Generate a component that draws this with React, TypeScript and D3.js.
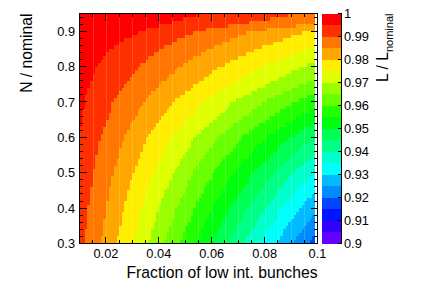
import React, { useEffect, useRef } from "react";
import * as d3 from "d3";

// histogram binning (x: fraction of low int. bunches, y: N / nominal)
const X_EDGES = d3.range(0, 90).map((i) => +(0.01 + i * 0.001).toFixed(3));
const Y_EDGES = d3.range(0, 66).map((j) => +(0.3 + j * 0.01).toFixed(2));

const ROWS_N = [0.3, 0.4, 0.5, 0.6, 0.7, 0.75, 0.8, 0.85, 0.9, 0.95];

// contour levels of L / L_nominal, and the x position where each level is crossed on every row
const CONTOUR_LEVELS = [0.995, 0.99, 0.985, 0.98, 0.975, 0.97, 0.965, 0.96, 0.955, 0.95, 0.945, 0.94, 0.935, 0.93, 0.925, 0.92];
const CONTOUR_X = [
  [0.006, 0.0067, 0.0076, 0.01, 0.0118, 0.0138, 0.0167, 0.0217, 0.033, 0.056],
  [0.012, 0.0133, 0.0152, 0.0179, 0.0227, 0.027, 0.0322, 0.0405, 0.054, 0.0934],
  [0.0181, 0.02, 0.0227, 0.0268, 0.0341, 0.0405, 0.0477, 0.059, 0.075, 0.13],
  [0.0241, 0.0267, 0.0303, 0.0357, 0.0455, 0.0541, 0.0632, 0.0775, 0.096, 0.167],
  [0.0301, 0.0333, 0.0379, 0.0446, 0.0568, 0.0676, 0.0787, 0.096, 0.117, 0.204],
  [0.0361, 0.04, 0.0455, 0.0536, 0.0682, 0.0811, 0.0942, 0.1145, 0.138, 0.241],
  [0.0422, 0.0467, 0.053, 0.0625, 0.0795, 0.0946, 0.11, 0.133, 0.159, 0.278],
  [0.0482, 0.0533, 0.0606, 0.0714, 0.0909, 0.108, 0.125, 0.152, 0.18, 0.315],
  [0.0542, 0.06, 0.0682, 0.0804, 0.102, 0.122, 0.141, 0.17, 0.201, 0.352],
  [0.0602, 0.0667, 0.0758, 0.0893, 0.114, 0.135, 0.156, 0.189, 0.222, 0.389],
  [0.0663, 0.0733, 0.0833, 0.0982, 0.125, 0.149, 0.172, 0.207, 0.243, 0.426],
  [0.0723, 0.08, 0.0909, 0.107, 0.136, 0.162, 0.187, 0.226, 0.264, 0.463],
  [0.0783, 0.0867, 0.0985, 0.116, 0.148, 0.176, 0.203, 0.244, 0.285, 0.5],
  [0.0843, 0.0933, 0.106, 0.125, 0.159, 0.189, 0.218, 0.263, 0.306, 0.537],
  [0.0904, 0.1, 0.114, 0.134, 0.17, 0.203, 0.234, 0.281, 0.327, 0.574],
  [0.0964, 0.107, 0.121, 0.143, 0.182, 0.216, 0.249, 0.3, 0.348, 0.611],
];

// tick labels
const X_TICKS = [0.02, 0.04, 0.06, 0.08, 0.1];
const Y_TICKS = [0.3, 0.4, 0.5, 0.6, 0.7, 0.8, 0.9];
const Z_TICKS = [0.9, 0.91, 0.92, 0.93, 0.94, 0.95, 0.96, 0.97, 0.98, 0.99, 1];

// ROOT "pretty" palette, 20 colour levels from 0.9 to 1
const PALETTE = [
  "#6300ff", "#3300ff", "#0014ff", "#0044ff", "#008bff", "#00bbff", "#00fffc", "#00ffcc", "#00ff85", "#00ff55",
  "#00ff0e", "#22ff00", "#69ff00", "#99ff00", "#e0ff00", "#ffee00", "#ffa700", "#ff7700", "#ff3000", "#ff0000",
];

const FONT = "'Liberation Sans', Arial, Helvetica, sans-serif";

function App() {
  const ref = useRef<SVGSVGElement>(null);

  useEffect(() => {
    const svg = d3.select(ref.current);
    svg.selectAll("*").remove();

    const left = 79.5, right = 317.5, top = 13.5, bottom = 243.5;
    const x = d3.scaleLinear().domain([0.01, 0.1]).range([left, right]);
    const y = d3.scaleLinear().domain([0.3, 0.95]).range([bottom, top]);
    const z = d3.scaleLinear().domain([0.9, 1]).range([bottom, top]);
    const palX0 = 321.5, palX1 = 341.5;

    // contour boundary of a level at a given N (straight segments between read rows)
    const edgeAt = (k: number, n: number) => {
      const xs = CONTOUR_X[k];
      let i = d3.bisectRight(ROWS_N, n) - 1;
      i = Math.max(0, Math.min(ROWS_N.length - 2, i));
      const t = (n - ROWS_N[i]) / (ROWS_N[i + 1] - ROWS_N[i]);
      return xs[i] + t * (xs[i + 1] - xs[i]);
    };

    const cells: { x0: number; x1: number; y0: number; y1: number; c: number }[] = [];
    for (let j = 0; j < Y_EDGES.length - 1; j++) {
      const yc = (Y_EDGES[j] + Y_EDGES[j + 1]) / 2;
      const edges = CONTOUR_LEVELS.map((_, k) => edgeAt(k, yc));
      for (let i = 0; i < X_EDGES.length - 1; i++) {
        const xc = (X_EDGES[i] + X_EDGES[i + 1]) / 2;
        const crossed = edges.filter((e) => e <= xc).length;
        cells.push({ x0: X_EDGES[i], x1: X_EDGES[i + 1], y0: Y_EDGES[j], y1: Y_EDGES[j + 1], c: PALETTE.length - 1 - crossed });
      }
    }

    svg.append("rect").attr("width", 440).attr("height", 285).attr("fill", "#fff");

    const heat = svg.append("g").attr("shape-rendering", "crispEdges");
    heat.selectAll("rect")
      .data(cells)
      .join("rect")
      .attr("x", (d) => x(d.x0))
      .attr("y", (d) => y(d.y1))
      .attr("width", (d) => x(d.x1) - x(d.x0))
      .attr("height", (d) => y(d.y0) - y(d.y1))
      .attr("fill", (d) => PALETTE[Math.max(0, d.c)]);

    // faint seams between blocks of bins, as in the png output
    const seams = X_EDGES.filter((_, i) => i > 0 && i % 5 === 0 && i < X_EDGES.length - 1);
    heat.selectAll("line")
      .data(seams)
      .join("line")
      .attr("x1", (d) => Math.round(x(d)) + 0.5)
      .attr("x2", (d) => Math.round(x(d)) + 0.5)
      .attr("y1", top)
      .attr("y2", bottom)
      .attr("stroke", "#fff")
      .attr("stroke-opacity", 0.15);

    const ax = svg.append("g").attr("stroke", "#000").attr("stroke-width", 1).attr("shape-rendering", "crispEdges");

    // frame
    ax.append("rect").attr("x", left).attr("y", top).attr("width", right - left).attr("height", bottom - top).attr("fill", "none");

    // x ticks (bottom and top, pointing in)
    const xMinor = d3.range(0.01, 0.1001, 0.005);
    const isMajorX = (v: number) => X_TICKS.some((t) => Math.abs(t - v) < 1e-6);
    xMinor.forEach((v) => {
      const len = isMajorX(v) ? 7 : 3.5;
      ax.append("line").attr("x1", x(v)).attr("x2", x(v)).attr("y1", bottom).attr("y2", bottom - len);
      ax.append("line").attr("x1", x(v)).attr("x2", x(v)).attr("y1", top).attr("y2", top + len);
    });

    // y ticks (left and right, pointing in)
    const yMinor = d3.range(0.3, 0.951, 0.02);
    const isMajorY = (v: number) => Y_TICKS.some((t) => Math.abs(t - v) < 1e-6);
    yMinor.forEach((v) => {
      const len = isMajorY(v) ? 7 : 3.5;
      ax.append("line").attr("x1", left).attr("x2", left + len).attr("y1", y(v)).attr("y2", y(v));
      ax.append("line").attr("x1", right).attr("x2", right - len).attr("y1", y(v)).attr("y2", y(v));
    });

    // colour palette
    const bands = PALETTE.map((c, i) => ({ c, lo: 0.9 + i * 0.005, hi: 0.9 + (i + 1) * 0.005 }));
    svg.append("g")
      .attr("shape-rendering", "crispEdges")
      .selectAll("rect")
      .data(bands)
      .join("rect")
      .attr("x", palX0)
      .attr("width", palX1 - palX0)
      .attr("y", (d) => z(d.hi))
      .attr("height", (d) => z(d.lo) - z(d.hi))
      .attr("fill", (d) => d.c);

    const pax = svg.append("g").attr("stroke", "#000").attr("shape-rendering", "crispEdges");
    pax.append("line").attr("x1", palX1).attr("x2", palX1).attr("y1", top).attr("y2", bottom);
    Z_TICKS.forEach((v) => {
      pax.append("line").attr("x1", palX1 - 4).attr("x2", palX1).attr("y1", z(v)).attr("y2", z(v));
    });

    const txt = svg.append("g").attr("font-family", FONT).attr("fill", "#000");

    txt.selectAll(".xl").data(X_TICKS).join("text")
      .attr("x", (d) => x(d)).attr("y", 258)
      .attr("text-anchor", "middle").attr("font-size", 12.8)
      .text((d) => String(d));

    txt.selectAll(".yl").data(Y_TICKS).join("text")
      .attr("x", 75).attr("y", (d) => y(d)).attr("dy", "0.36em")
      .attr("text-anchor", "end").attr("font-size", 12.8)
      .text((d) => String(d));

    txt.selectAll(".zl").data(Z_TICKS).join("text")
      .attr("x", 344).attr("y", (d) => z(d)).attr("dy", "0.36em")
      .attr("text-anchor", "start").attr("font-size", 12.8)
      .text((d) => String(d));

    txt.append("text")
      .attr("x", right).attr("y", 278)
      .attr("text-anchor", "end").attr("font-size", 15.7)
      .text("Fraction of low int. bunches");

    txt.append("text")
      .attr("transform", `translate(32,${top}) rotate(-90)`)
      .attr("text-anchor", "end").attr("font-size", 15.7)
      .text("N / nominal");

    const zt = txt.append("text")
      .attr("transform", `translate(388,${top}) rotate(-90)`)
      .attr("text-anchor", "end").attr("font-size", 15.7);
    zt.append("tspan").text("L / L");
    zt.append("tspan").attr("dy", 5).attr("font-size", 11).text("nominal");
  }, []);

  return (
    <svg
      ref={ref}
      width={440}
      height={285}
      style={{ position: "absolute", left: 0, top: 0, display: "block" }}
    />
  );
}

export default App;
